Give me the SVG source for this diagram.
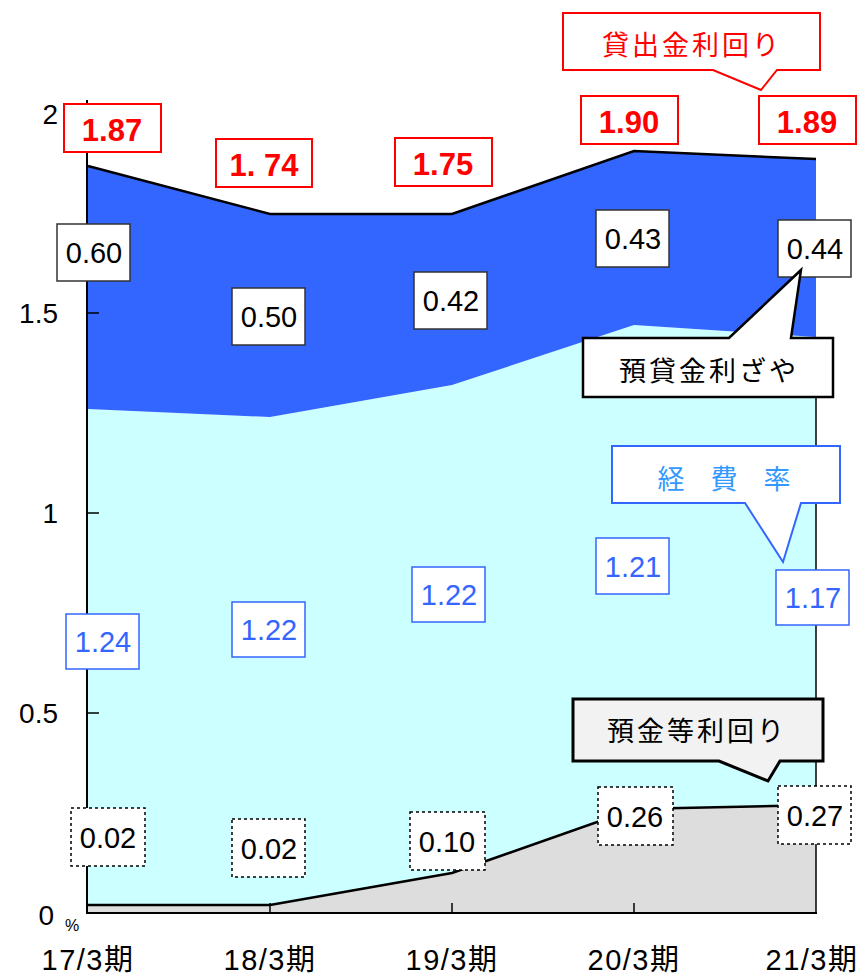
<svg xmlns="http://www.w3.org/2000/svg" width="867" height="978" viewBox="0 0 867 978">
<style>
.num{font-family:"Liberation Sans",Arial,sans-serif;font-size:29px;text-anchor:middle}
.red{fill:#ff0000;font-weight:bold;font-size:31px}
.blk{fill:#000}
.blu{fill:#3366ff}
.jp{font-family:"Noto Sans CJK JP","Noto Sans",sans-serif;text-anchor:middle}
.ax{font-family:"Liberation Sans",Arial,sans-serif;font-size:28px;fill:#000}
.xl{font-family:"Liberation Sans","Noto Sans CJK JP",sans-serif;font-size:29px;fill:#000;text-anchor:middle;letter-spacing:1.5px}
.rbox{fill:#fff;stroke:#ff0000;stroke-width:2}
.kbox{fill:#fff;stroke:#333;stroke-width:1.5}
.bbox{fill:#fff;stroke:#3366ff;stroke-width:1.5}
.dbox{fill:#fff;stroke:#000;stroke-width:1.5;stroke-dasharray:3 3}
</style>
<rect width="867" height="978" fill="#fff"/>
<g id="areas">
<polygon points="88,905 270,905 452,873 634,809 816,805 816,913 88,913" fill="#dddddd"/>
<polygon points="88,409 270,417 452,385 634,325 816,337 816,805 634,809 452,873 270,905 88,905" fill="#ccffff"/>
<polygon points="88,166 270,214 452,214 634,151 816,159 816,337 634,325 452,385 270,417 88,409" fill="#3366ff"/>
</g>
<g id="connectors" fill="none" stroke="#000">
<polyline points="88,166 270,214 452,214 634,151 816,159" stroke-width="2.5"/>
<polyline points="88,905 270,905 452,873 634,809 816,805" stroke-width="2.5"/>
<line x1="816" y1="337" x2="816" y2="913" stroke-width="1.5"/>
<line x1="87" y1="100" x2="87" y2="914" stroke-width="2"/>
<line x1="86" y1="913" x2="817" y2="913" stroke-width="2"/>
<line x1="87" y1="313" x2="99" y2="313" stroke-width="1.5"/>
<line x1="87" y1="513" x2="99" y2="513" stroke-width="1.5"/>
<line x1="87" y1="713" x2="99" y2="713" stroke-width="1.5"/>
<line x1="270" y1="903" x2="270" y2="913" stroke-width="1.5"/>
<line x1="452" y1="903" x2="452" y2="913" stroke-width="1.5"/>
<line x1="634" y1="903" x2="634" y2="913" stroke-width="1.5"/>
</g>
<g id="axis-labels">
<text class="ax" x="58" y="124" text-anchor="end">2</text>
<text class="ax" x="58" y="323" text-anchor="end">1.5</text>
<text class="ax" x="58" y="523" text-anchor="end">1</text>
<text class="ax" x="58" y="723" text-anchor="end">0.5</text>
<text class="ax" x="54" y="925" text-anchor="end">0</text>
<text class="ax" x="72" y="931" style="font-size:16px" text-anchor="middle">%</text>
<text class="xl" x="88" y="970">17/3期</text>
<text class="xl" x="270" y="970">18/3期</text>
<text class="xl" x="452" y="970">19/3期</text>
<text class="xl" x="634" y="970">20/3期</text>
<text class="xl" x="812" y="970">21/3期</text>
</g>
<g id="loan-yield-labels">
<rect class="rbox" x="64" y="104" width="97" height="48"/><text class="num red" x="112" y="141">1.87</text>
<rect class="rbox" x="216" y="139" width="96" height="48"/><text class="num red" x="264" y="176">1. 74</text>
<rect class="rbox" x="395" y="138" width="97" height="48"/><text class="num red" x="443" y="175">1.75</text>
<rect class="rbox" x="581" y="96" width="97" height="48"/><text class="num red" x="629" y="133">1.90</text>
<rect class="rbox" x="759" y="96" width="97" height="48"/><text class="num red" x="807" y="133">1.89</text>
</g>
<g id="callout-loan">
<path d="M563,13 H820 V70 H777 L761,90 L713,70 H563 Z" fill="#fff" stroke="#ff0000" stroke-width="2"/>
<text class="jp" x="692" y="55" style="font-size:27px;fill:#ff0000;letter-spacing:3px">貸出金利回り</text>
</g>
<g id="spread-labels">
<rect class="kbox" x="57" y="224" width="73" height="57"/><text class="num blk" x="94" y="263">0.60</text>
<rect class="kbox" x="232" y="288" width="73" height="57"/><text class="num blk" x="269" y="327">0.50</text>
<rect class="kbox" x="414" y="272" width="73" height="57"/><text class="num blk" x="451" y="311">0.42</text>
<rect class="kbox" x="596" y="210" width="73" height="57"/><text class="num blk" x="633" y="249">0.43</text>
<rect class="kbox" x="778" y="220" width="73" height="57"/><text class="num blk" x="815" y="259">0.44</text>
</g>
<g id="callout-spread">
<path d="M583,338 H729 L801,270 L791,338 H833 V397 H583 Z" fill="#fff" stroke="#000" stroke-width="2.5"/>
<text class="jp" x="709" y="381" style="font-size:27px;fill:#000;letter-spacing:3px">預貸金利ざや</text>
</g>
<g id="callout-expense">
<path d="M612,446 H840 V503 H801 L783,562 L745,503 H612 Z" fill="#fff" stroke="#3366ff" stroke-width="2"/>
<text class="jp" x="729" y="489" style="font-size:27px;fill:#3399ff;letter-spacing:10px">経 費 率</text>
</g>
<g id="expense-labels">
<rect class="bbox" x="66" y="614" width="73" height="55"/><text class="num blu" x="103" y="652">1.24</text>
<rect class="bbox" x="232" y="602" width="73" height="55"/><text class="num blu" x="269" y="640">1.22</text>
<rect class="bbox" x="412" y="567" width="73" height="55"/><text class="num blu" x="449" y="605">1.22</text>
<rect class="bbox" x="596" y="538" width="73" height="56"/><text class="num blu" x="633" y="577">1.21</text>
<rect class="bbox" x="776" y="570" width="73" height="55"/><text class="num blu" x="813" y="608">1.17</text>
</g>
<g id="callout-deposit">
<path d="M573,699 H823 V761 H780 L768,781 L719,761 H573 Z" fill="#f2f2f2" stroke="#000" stroke-width="3"/>
<text class="jp" x="697" y="741" style="font-size:27px;fill:#000;letter-spacing:3px">預金等利回り</text>
</g>
<g id="deposit-labels">
<rect class="dbox" x="71" y="808" width="74" height="58"/><text class="num blk" x="108" y="848">0.02</text>
<rect class="dbox" x="232" y="819" width="73" height="58"/><text class="num blk" x="269" y="859">0.02</text>
<rect class="dbox" x="410" y="812" width="75" height="58"/><text class="num blk" x="447" y="852">0.10</text>
<rect class="dbox" x="598" y="787" width="75" height="58"/><text class="num blk" x="635" y="827">0.26</text>
<rect class="dbox" x="778" y="786" width="73" height="58"/><text class="num blk" x="815" y="826">0.27</text>
</g>
</svg>
